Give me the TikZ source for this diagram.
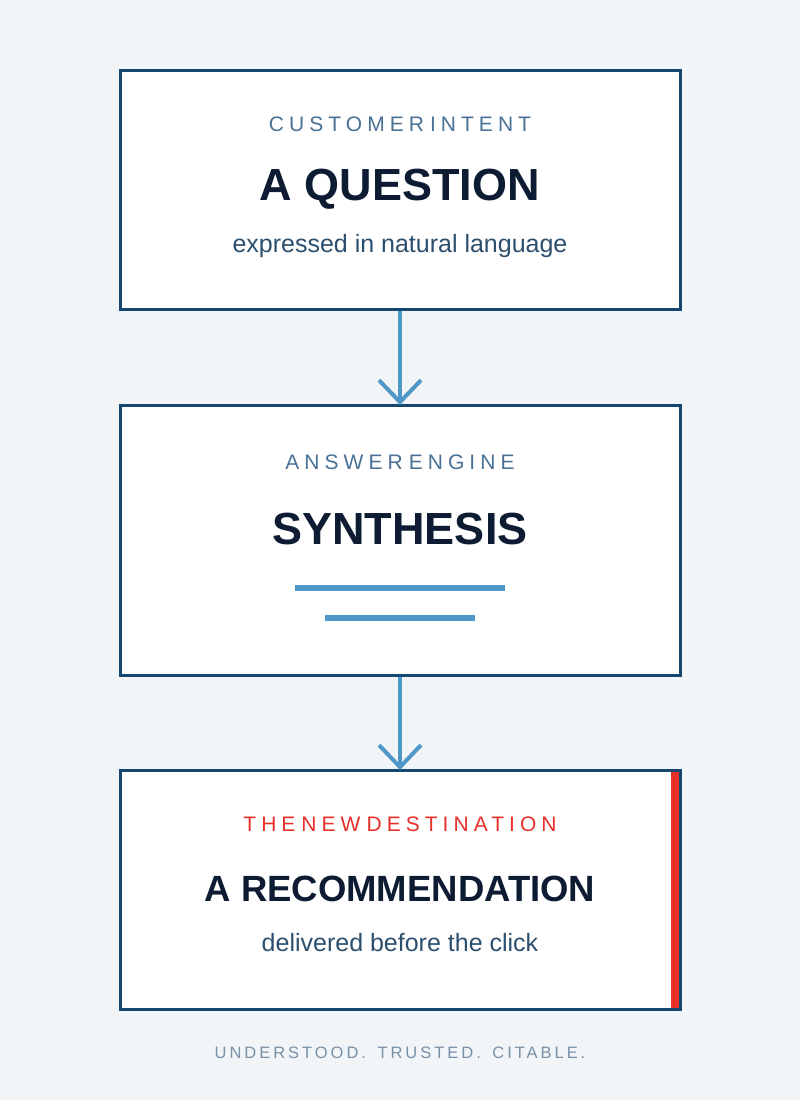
\documentclass[tikz,border=0pt]{standalone}
\usepackage{fontspec}
\setmainfont{Liberation Sans}
\usetikzlibrary{arrows.meta}
\definecolor{bg}{HTML}{F2F5F8}
\definecolor{frame}{HTML}{17466E}
\definecolor{arr}{HTML}{4F97C6}
\definecolor{kick}{HTML}{4A7196}
\definecolor{ttl}{HTML}{0D1B33}
\definecolor{sub}{HTML}{2C4F6E}
\definecolor{redc}{HTML}{E8302A}
\definecolor{foot}{HTML}{7890A8}
\newcommand{\wsp}{\hspace{6pt}}
\begin{document}
\begin{tikzpicture}[x=1pt,y=1pt,
  box/.style={draw=frame,line width=3pt,fill=white,minimum width=560pt,inner sep=0pt},
  kicker/.style={text=kick,font=\fontsize{21}{24}\selectfont\addfontfeature{LetterSpace=24}},
  title/.style={text=ttl,font=\fontsize{45}{50}\selectfont\bfseries},
  subt/.style={text=sub,font=\fontsize{25}{28}\selectfont},
  conn/.style={draw=arr,line width=4pt,-{Straight Barb[length=22pt,width=42pt,line width=4pt]}}]
\fill[bg] (0,0) rectangle (800,-1100);
\useasboundingbox (0,0) rectangle (800,-1100);
\node[box,minimum height=239pt] (b1) at (400,-189.5) {};
\node[box,minimum height=270pt] (b2) at (400,-540) {};
\node[box,minimum height=239pt,path picture={\fill[redc] ([xshift=-9pt]path picture bounding box.north east) rectangle (path picture bounding box.south east);}] (b3) at (400,-889.5) {};
\node[kicker] (k1) at (400,-124) {CUSTOMER\wsp INTENT};
\node[title] (t1) at (400,-189) {A QUESTION};
\node[subt] (s1) at (400,-246) {expressed in natural language};
\node[kicker] (k2) at (400,-462) {ANSWER\wsp ENGINE};
\node[title] (t2) at (400,-529) {SYNTHESIS};
\coordinate (l1a) at (295,-588); \coordinate (l1b) at (505,-588);
\coordinate (l2a) at (325,-618); \coordinate (l2b) at (475,-618);
\draw[arr,line width=6pt] (l1a) -- (l1b);
\draw[arr,line width=6pt] (l2a) -- (l2b);
\node[kicker,text=redc] (k3) at (400,-824) {THE\wsp NEW\wsp DESTINATION};
\node[title,font=\fontsize{36.5}{40}\selectfont\bfseries] (t3) at (400,-889) {A RECOMMENDATION};
\node[subt] (s3) at (400,-943) {delivered before the click};
\node[text=foot,font=\fontsize{16.5}{20}\selectfont\addfontfeature{LetterSpace=18}] (ft) at (400,-1053) {UNDERSTOOD.\hspace{4pt} TRUSTED.\hspace{4pt} CITABLE.};
\path[conn] (b1.south) -- ([yshift=-1.5pt]b2.north);
\path[conn] (b2.south) -- ([yshift=-1.5pt]b3.north);
\end{tikzpicture}
\end{document}
